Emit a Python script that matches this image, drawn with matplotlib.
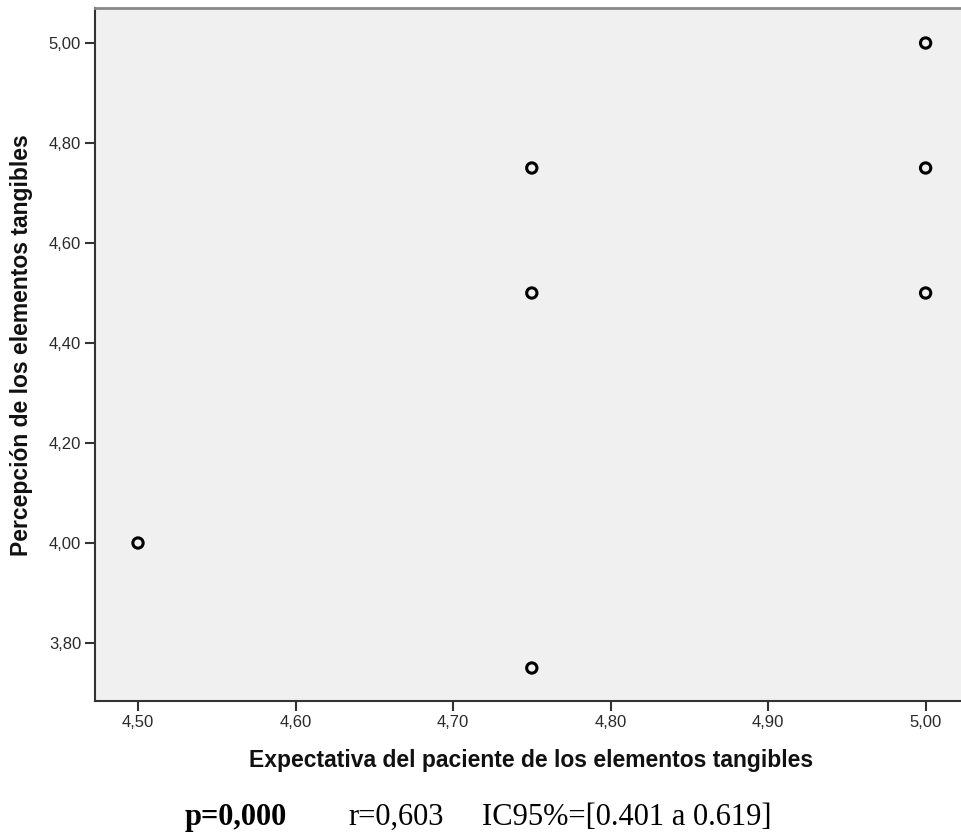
import matplotlib.pyplot as plt
from matplotlib.ticker import FuncFormatter

# valores
expectativa = [4.50, 4.75, 4.75, 4.75, 5.00, 5.00, 5.00]
percepcion = [4.00, 4.75, 4.50, 3.75, 5.00, 4.75, 4.50]
x_ticks = [4.50, 4.60, 4.70, 4.80, 4.90, 5.00]
y_ticks = [3.80, 4.00, 4.20, 4.40, 4.60, 4.80, 5.00]


def coma(v, pos):
    return f'{v:.2f}'.replace('.', ',')


fig = plt.figure(figsize=(9.62, 8.38), dpi=100)
ax = fig.add_axes([95 / 962, 1 - 701 / 838, 870 / 962, 693 / 838])
ax.set_facecolor('#f0f0f0')

ax.scatter(expectativa, percepcion, s=55, facecolors='none', edgecolors='black',
           linewidths=2.2, zorder=3)

ax.set_xlim(4.4727, 5.0250)
ax.set_ylim(3.684, 5.07)
ax.set_xticks(x_ticks)
ax.set_yticks(y_ticks)
ax.xaxis.set_major_formatter(FuncFormatter(coma))
ax.yaxis.set_major_formatter(FuncFormatter(coma))
ax.tick_params(direction='out', length=7, width=1.5, color='#333333',
               labelsize=12, labelcolor='#2a2a2a', pad=3)
for s in ['left', 'bottom']:
    ax.spines[s].set_linewidth(1.5)
    ax.spines[s].set_color('#333333')
ax.spines['top'].set_color('#888888')
ax.spines['top'].set_linewidth(2)
ax.spines['right'].set_visible(False)

for lab in ax.get_xticklabels() + ax.get_yticklabels():
    lab.set_family('Liberation Sans')

# titulos de ejes colocados a mano en coordenadas de la figura
fig.text(531 / 962, 1 - 760 / 838, 'Expectativa del paciente de los elementos tangibles',
         fontsize=16.5, fontweight='bold', family='Liberation Sans',
         ha='center', va='center', color='#111111')
fig.text(22 / 962, 1 - 345 / 838, 'Percepción de los elementos tangibles',
         fontsize=16.5, fontweight='bold', family='Liberation Sans', rotation=90,
         ha='center', va='center', color='#111111')

fig.text(185 / 962, 1 - 825 / 838, 'p=0,000', fontsize=22, fontweight='bold',
         family='Liberation Serif', va='baseline', ha='left')
fig.text(348 / 962, 1 - 825 / 838, 'r=0,603', fontsize=22,
         family='Liberation Serif', va='baseline', ha='left')
fig.text(482 / 962, 1 - 825 / 838, 'IC95%=[0.401 a 0.619]', fontsize=22,
         family='Liberation Serif', va='baseline', ha='left')

fig.savefig('out.png', dpi=100)
